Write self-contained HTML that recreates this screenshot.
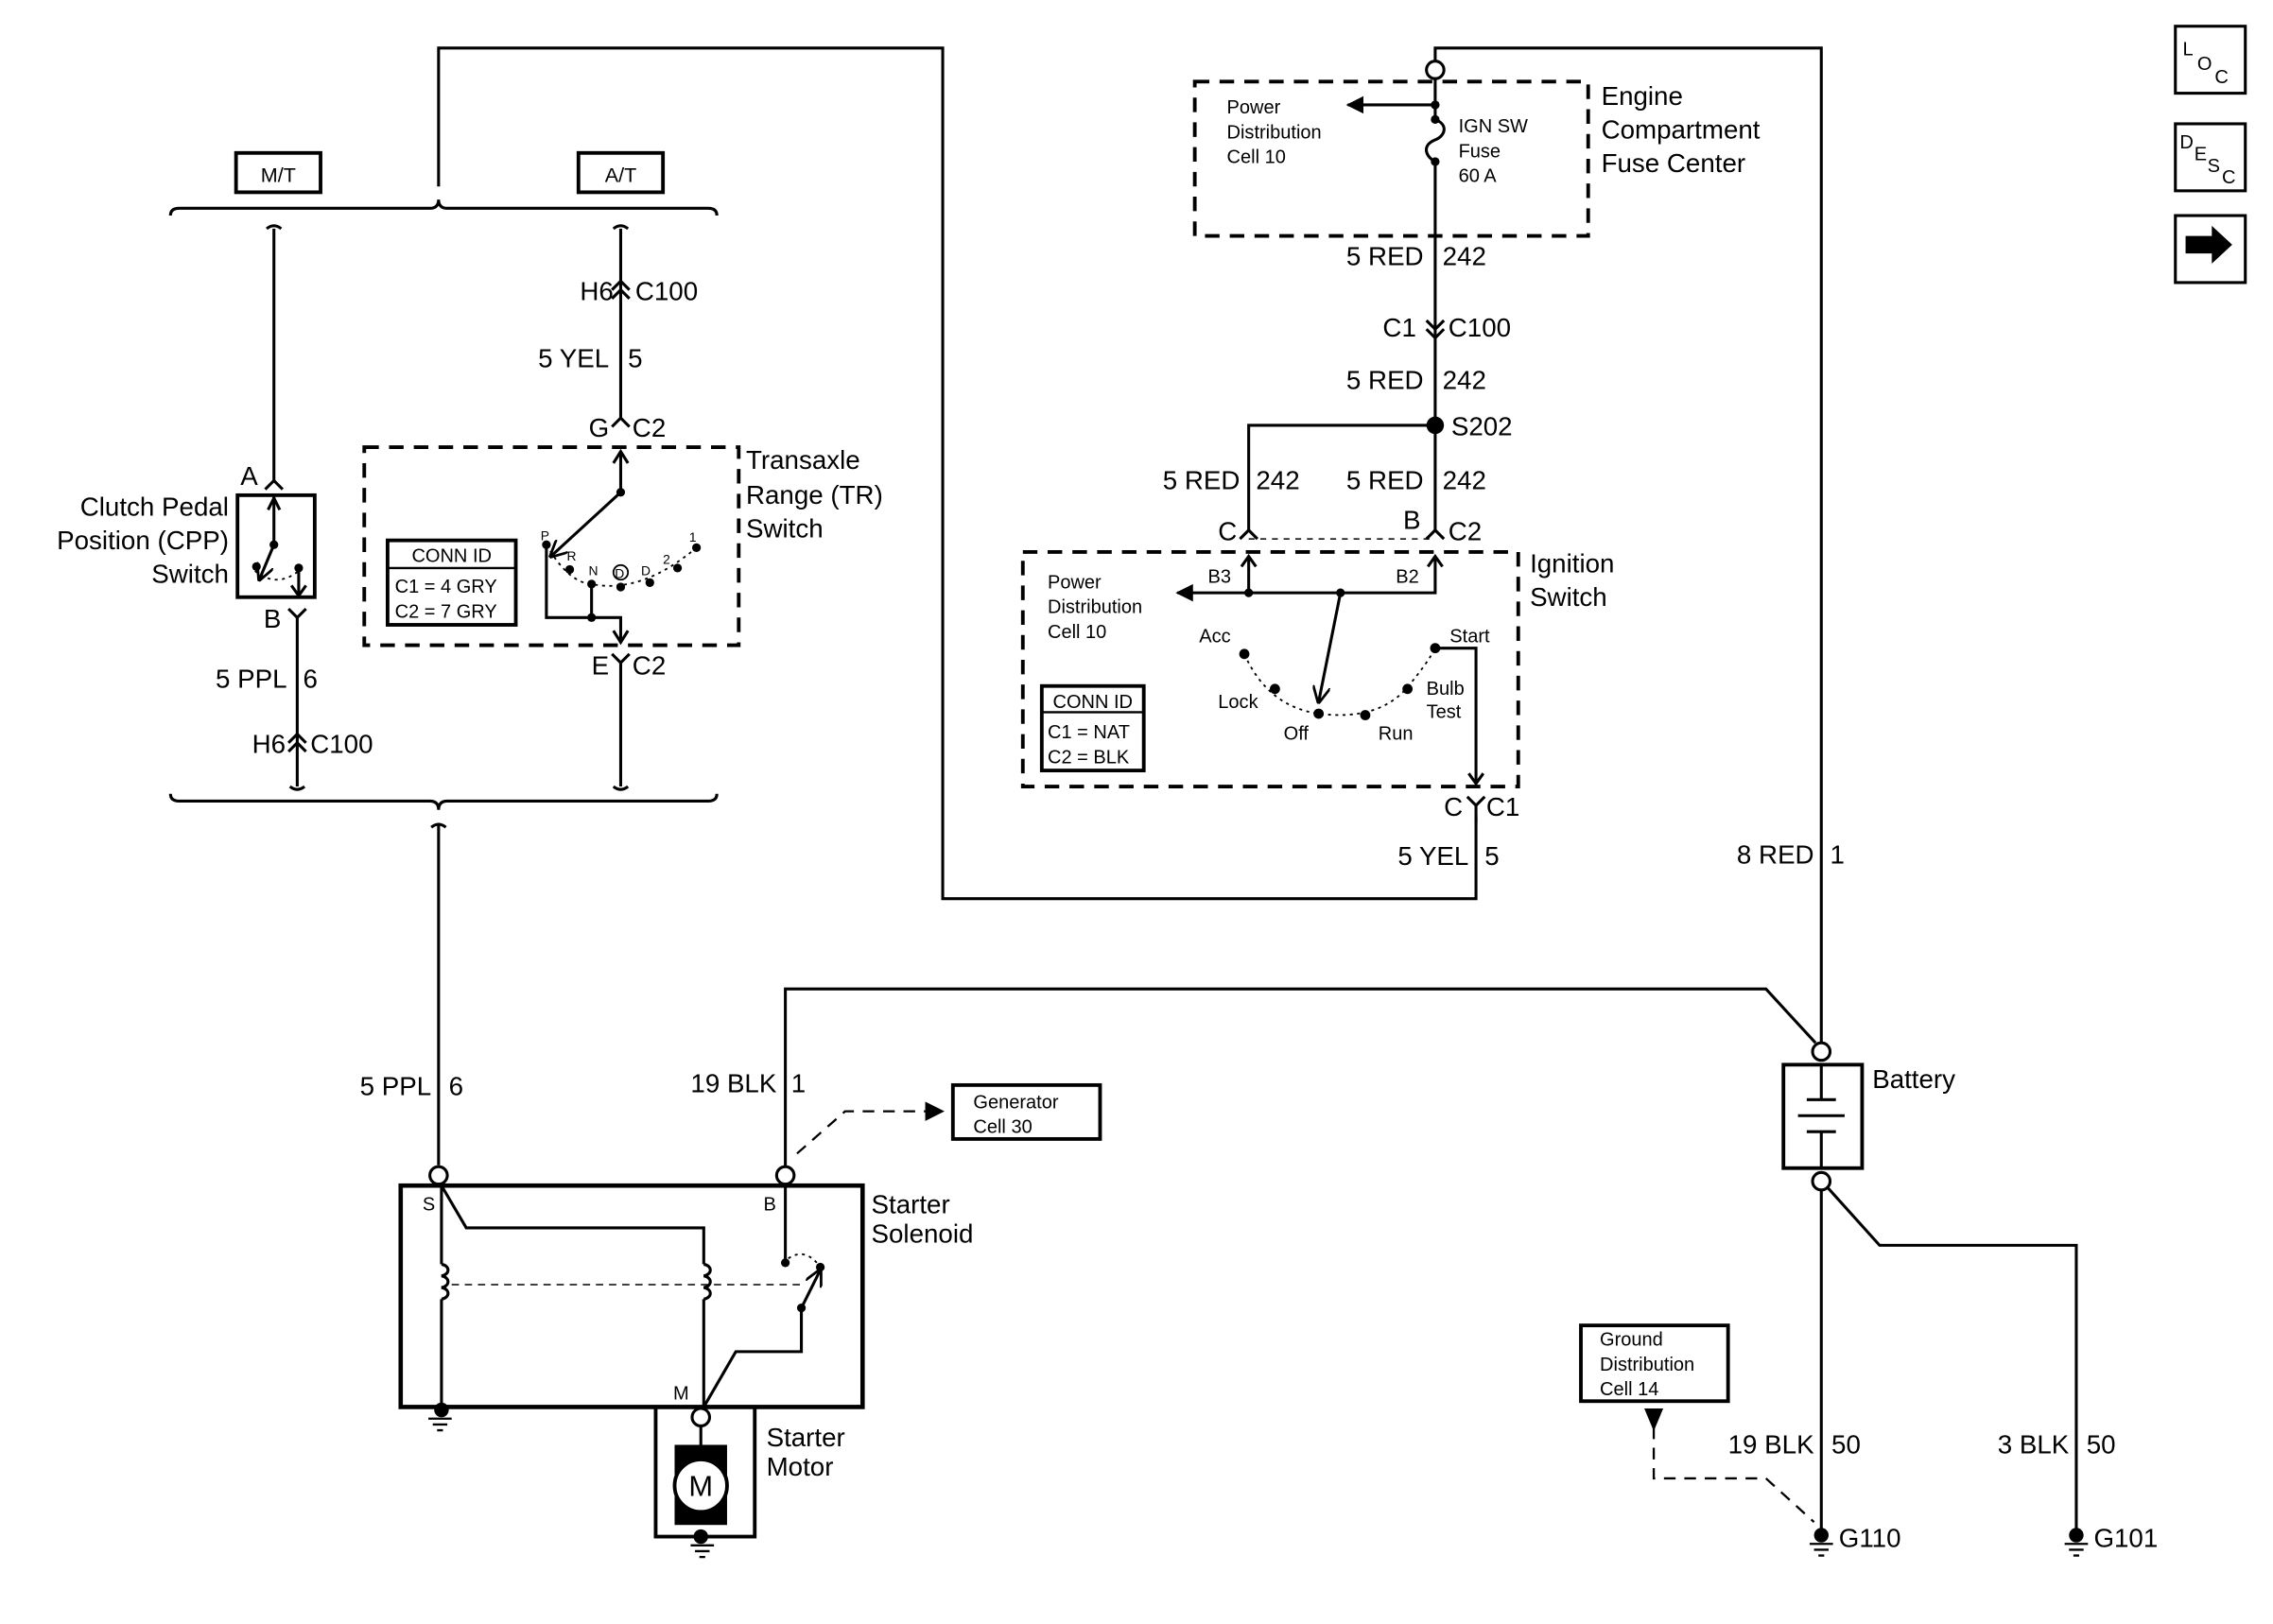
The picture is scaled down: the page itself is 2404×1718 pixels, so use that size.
<!DOCTYPE html>
<html><head><meta charset="utf-8"><style>
html,body{margin:0;padding:0;background:#fff;}
svg{display:block;}
text{font-family:"Liberation Sans",Arial,sans-serif;fill:#000;}
</style></head><body>
<svg width="2404" height="1718" viewBox="0 0 1560 1115" preserveAspectRatio="none" xmlns="http://www.w3.org/2000/svg">
<defs>
<marker id="ah" viewBox="0 0 10 10" refX="9" refY="5" markerWidth="6" markerHeight="6" orient="auto-start-reverse"><path d="M0,0 L10,5 L0,10 z" fill="#000"/></marker>
<marker id="av" viewBox="0 0 10 10" refX="9" refY="5" markerWidth="6" markerHeight="6" orient="auto"><path d="M0,0 L10,5 L0,10" fill="none" stroke="#000" stroke-width="1.5"/></marker>
</defs>
<g stroke="#000" stroke-width="2" fill="none">
<polyline points="301,128 301,33 647,33 647,617 1013,617 1013,560"/>
<path d="M117,148 q0,-5 6,-5 H295 q6,0 6,-6 q0,6 6,6 H486 q6,0 6,5"/>
<path d="M117,545 q0,5 6,5 H295 q6,0 6,6 q0,-6 6,-6 H486 q6,0 6,-5"/>
<line x1="301" y1="565" x2="301" y2="800"/>
<path d="M296,568 q5,-4 10,0"/>
<path d="M183,157 q5,-4 10,0"/>
<line x1="188" y1="157" x2="188" y2="330"/>
<path d="M182,336 l6,-6 l6,6"/>
<path d="M198,418 l6,6 l6,-6"/>
<line x1="204" y1="424" x2="204" y2="540"/>
<path d="M198,510 l6,-6 l6,6 M198,516 l6,-6 l6,6"/>
<path d="M199,540 q5,4 10,0"/>
<path d="M421,157 q5,-4 10,0"/>
<line x1="426" y1="157" x2="426" y2="287"/>
<path d="M420,199 l6,-6 l6,6 M420,205 l6,-6 l6,6"/>
<path d="M420,293 l6,-6 l6,6"/>
<path d="M420,449 l6,6 l6,-6"/>
<line x1="426" y1="455" x2="426" y2="540"/>
<path d="M421,540 q5,4 10,0"/>
<rect x="163" y="340" width="53" height="70" stroke-width="2.5"/>
<line x1="188" y1="340" x2="188" y2="374"/>
<path d="M184,350 l4,-8 l4,8"/>
<line x1="188" y1="374" x2="178" y2="398" marker-end="url(#av)"/>
<path d="M175,392 q15,12 30,0" stroke-dasharray="2,3" stroke-width="1.2"/>
<line x1="205" y1="390" x2="205" y2="408"/>
<path d="M200,402 l5,7 l5,-7"/>
<rect x="250" y="307" width="257" height="136" stroke-dasharray="10,7" stroke-width="2.5"/>
<line x1="426" y1="310" x2="426" y2="338"/>
<path d="M421,318 l5,-8 l5,8"/>
<line x1="426" y1="338" x2="378" y2="382" marker-end="url(#av)"/>
<polyline points="375,374 375,424 426,424 426,440"/>
<path d="M421,433 l5,8 l5,-8"/>
<line x1="406" y1="401" x2="406" y2="424"/>
<path d="M375,374 Q390,400 406,401 Q440,408 478,376" stroke-dasharray="2,3" stroke-width="1.2"/>
<rect x="266" y="371" width="88" height="58" stroke-width="2.5"/>
<line x1="266" y1="390" x2="354" y2="390" stroke-width="1.5"/>
<circle cx="426" cy="393" r="5" stroke-width="1.2"/>
<polyline points="985,43 985,33 1250,33 1250,716"/>
<circle cx="985" cy="48" r="6" fill="#fff"/>
<rect x="820" y="56" width="270" height="106" stroke-dasharray="10,7" stroke-width="2.5"/>
<line x1="985" y1="54" x2="985" y2="82"/>
<line x1="985" y1="72" x2="925" y2="72" marker-end="url(#ah)"/>
<path d="M985,82 c10,4 6,12 0,14 c-10,4 -6,12 0,15"/>
<line x1="985" y1="111" x2="985" y2="365"/>
<path d="M979,220 l6,6 l6,-6 M979,226 l6,6 l6,-6"/>
<polyline points="985,292 857,292 857,365"/>
<path d="M851,370 l6,-6 l6,6 M979,370 l6,-6 l6,6"/>
<path d="M857,370 H985" stroke-dasharray="4,4" stroke-width="1"/>
<rect x="702" y="379" width="340" height="161" stroke-dasharray="10,7" stroke-width="2.5"/>
<polyline points="857,382 857,407 985,407 985,382"/>
<path d="M852,389 l5,-7 l5,7 M980,389 l5,-7 l5,7"/>
<line x1="857" y1="407" x2="808" y2="407" marker-end="url(#ah)"/>
<line x1="920" y1="407" x2="905" y2="482" marker-end="url(#av)"/>
<path d="M854,449 Q870,485 905,490 Q945,495 965,473 Q980,455 985,445" stroke-dasharray="2,3" stroke-width="1.2"/>
<polyline points="985,445 1013,445 1013,537"/>
<path d="M1008,531 l5,7 l5,-7"/>
<path d="M1007,547 l6,6 l6,-6"/>
<line x1="1013" y1="553" x2="1013" y2="565"/>
<rect x="715" y="471" width="70" height="58" stroke-width="2.5"/>
<line x1="715" y1="489" x2="785" y2="489" stroke-width="1.5"/>
<circle cx="1250" cy="722" r="6" fill="#fff"/>
<rect x="1224" y="731" width="54" height="71" stroke-width="2.5"/>
<line x1="1250" y1="731" x2="1250" y2="755"/>
<line x1="1240" y1="755" x2="1260" y2="755"/>
<line x1="1234" y1="766" x2="1266" y2="766"/>
<line x1="1240" y1="777" x2="1260" y2="777"/>
<line x1="1250" y1="777" x2="1250" y2="802"/>
<circle cx="1250" cy="811" r="6" fill="#fff"/>
<line x1="1250" y1="817" x2="1250" y2="1050"/>
<polyline points="1254,815 1290,855 1425,855 1425,1050"/>
<polyline points="539,801 539,679 1212,679 1246,716"/>
<polyline points="547,792 580,763 638,763" stroke-dasharray="8,6" stroke-width="1.5"/>
<path d="M636,758 l10,5 l-10,5z" fill="#000"/>
<rect x="654" y="745" width="101" height="37" stroke-width="2.5"/>
<rect x="1085" y="910" width="101" height="52" stroke-width="2.5"/>
<polyline points="1135,980 1135,1015 1212,1015 1245,1045" stroke-dasharray="8,6" stroke-width="1.5"/>
<path d="M1130,968 h10 l-5,12z" fill="#000"/>
<circle cx="301" cy="807" r="6" fill="#fff"/>
<circle cx="539" cy="807" r="6" fill="#fff"/>
<rect x="275" y="814" width="317" height="152" stroke-width="3"/>
<polyline points="303,814 320,843 483,843 483,868"/>
<line x1="303" y1="814" x2="303" y2="868"/>
<path d="M303,868 c6,1 6,7 0,8 c6,1 6,7 0,8 c6,1 6,7 0,8 M483,868 c6,1 6,7 0,8 c6,1 6,7 0,8 c6,1 6,7 0,8"/>
<line x1="303" y1="892" x2="303" y2="966"/>
<line x1="483" y1="892" x2="483" y2="966"/>
<line x1="310" y1="882" x2="550" y2="882" stroke-dasharray="5,4" stroke-width="1"/>
<line x1="539" y1="814" x2="539" y2="867"/>
<path d="M541,864 q12,-8 22,6" stroke-dasharray="2,3" stroke-width="1.2"/>
<line x1="550" y1="898" x2="563" y2="872" marker-end="url(#av)"/>
<polyline points="550,898 550,928 505,928 483,966"/>
<rect x="450" y="966" width="68" height="89" stroke-width="2.5"/>
<circle cx="481" cy="973" r="6" fill="#fff"/>
<line x1="481" y1="979" x2="481" y2="993"/>
<rect x="464" y="993" width="34" height="53" fill="#000"/>
<circle cx="481" cy="1020" r="18" fill="#fff" stroke-width="2.5"/>
<g stroke-width="1.5">
<path d="M294,974 h16 M297,978 h10 M300,982 h4"/>
<path d="M474,1061 h16 M477,1065 h10 M480,1069 h4"/>
<path d="M1242,1060 h16 M1245,1064 h10 M1248,1068 h4"/>
<path d="M1417,1060 h16 M1420,1064 h10 M1423,1068 h4"/>
</g>
<rect x="1493" y="18" width="48" height="46" stroke-width="2"/>
<rect x="1493" y="85" width="48" height="46" stroke-width="2"/>
<rect x="1493" y="148" width="48" height="46" stroke-width="2"/>
</g>
<g fill="#000">
<circle cx="985" cy="292" r="6"/>
<circle cx="188" cy="374" r="3"/><circle cx="176" cy="389" r="3"/><circle cx="205" cy="390" r="3"/>
<circle cx="426" cy="338" r="3"/><circle cx="375" cy="374" r="3"/><circle cx="391" cy="391" r="3"/><circle cx="406" cy="401" r="3"/><circle cx="426" cy="403" r="3"/><circle cx="446" cy="400" r="3"/><circle cx="465" cy="390" r="3"/><circle cx="478" cy="376" r="3"/><circle cx="406" cy="424" r="3"/>
<circle cx="985" cy="72" r="3"/><circle cx="985" cy="82" r="3"/><circle cx="985" cy="111" r="3"/>
<circle cx="857" cy="407" r="3"/><circle cx="920" cy="407" r="3"/>
<circle cx="854" cy="449" r="3.5"/><circle cx="875" cy="473" r="3.5"/><circle cx="905" cy="490" r="3.5"/><circle cx="937" cy="491" r="3.5"/><circle cx="966" cy="473" r="3.5"/><circle cx="985" cy="445" r="3.5"/>
<circle cx="539" cy="867" r="3"/><circle cx="563" cy="870" r="3"/><circle cx="550" cy="898" r="3"/>
<circle cx="303" cy="968" r="5"/><circle cx="481" cy="1055" r="5"/><circle cx="1250" cy="1054" r="5"/><circle cx="1425" cy="1054" r="5"/>
<path d="M1500,162 h18 v-7 l14,13 l-14,13 v-7 h-18z"/>
</g>
<g font-size="18">
<rect x="162" y="105" width="58" height="27" fill="none" stroke="#000" stroke-width="2.5"/>
<rect x="397" y="105" width="58" height="27" fill="none" stroke="#000" stroke-width="2.5"/>
<text x="191" y="125" font-size="14" text-anchor="middle">M/T</text>
<text x="426" y="125" font-size="14" text-anchor="middle">A/T</text>
<text x="421" y="206" text-anchor="end">H6</text><text x="436" y="206">C100</text>
<text x="418" y="252" text-anchor="end">5 YEL</text><text x="431" y="252">5</text>
<text x="418" y="300" text-anchor="end">G</text><text x="434" y="300">C2</text>
<text x="418" y="463" text-anchor="end">E</text><text x="434" y="463">C2</text>
<text x="177" y="333" text-anchor="end">A</text>
<text x="193" y="431" text-anchor="end">B</text>
<text x="197" y="472" text-anchor="end">5 PPL</text><text x="208" y="472">6</text>
<text x="196" y="517" text-anchor="end">H6</text><text x="213" y="517">C100</text>
<text x="157" y="354" text-anchor="end">Clutch Pedal</text>
<text x="157" y="377" text-anchor="end">Position (CPP)</text>
<text x="157" y="400" text-anchor="end">Switch</text>
<text x="512" y="322">Transaxle</text><text x="512" y="346">Range (TR)</text><text x="512" y="369">Switch</text>
<text x="1099" y="72">Engine</text><text x="1099" y="95">Compartment</text><text x="1099" y="118">Fuse Center</text>
<text x="977" y="182" text-anchor="end">5 RED</text><text x="990" y="182">242</text>
<text x="972" y="231" text-anchor="end">C1</text><text x="994" y="231">C100</text>
<text x="977" y="267" text-anchor="end">5 RED</text><text x="990" y="267">242</text>
<text x="996" y="299">S202</text>
<text x="851" y="336" text-anchor="end">5 RED</text><text x="862" y="336">242</text>
<text x="977" y="336" text-anchor="end">5 RED</text><text x="990" y="336">242</text>
<text x="849" y="371" text-anchor="end">C</text>
<text x="975" y="363" text-anchor="end">B</text><text x="994" y="371">C2</text>
<text x="1050" y="393">Ignition</text><text x="1050" y="416">Switch</text>
<text x="1004" y="560" text-anchor="end">C</text><text x="1020" y="560">C1</text>
<text x="1008" y="594" text-anchor="end">5 YEL</text><text x="1019" y="594">5</text>
<text x="1245" y="593" text-anchor="end">8 RED</text><text x="1256" y="593">1</text>
<text x="1285" y="747">Battery</text>
<text x="296" y="752" text-anchor="end">5 PPL</text><text x="308" y="752">6</text>
<text x="533" y="750" text-anchor="end">19 BLK</text><text x="543" y="750">1</text>
<text x="598" y="833">Starter</text><text x="598" y="853">Solenoid</text>
<text x="526" y="993">Starter</text><text x="526" y="1013">Motor</text>
<text x="1245" y="998" text-anchor="end">19 BLK</text><text x="1257" y="998">50</text>
<text x="1420" y="998" text-anchor="end">3 BLK</text><text x="1432" y="998">50</text>
<text x="1262" y="1062">G110</text><text x="1437" y="1062">G101</text>
<text x="481" y="1027" text-anchor="middle" font-size="20">M</text>
</g>
<g font-size="13">
<text x="310" y="386" text-anchor="middle">CONN ID</text>
<text x="271" y="407">C1 = 4 GRY</text><text x="271" y="424">C2 = 7 GRY</text>
<text x="750" y="486" text-anchor="middle">CONN ID</text>
<text x="719" y="507">C1 = NAT</text><text x="719" y="524">C2 = BLK</text>
<text x="842" y="78">Power</text><text x="842" y="95">Distribution</text><text x="842" y="112">Cell 10</text>
<text x="1001" y="91">IGN SW</text><text x="1001" y="108">Fuse</text><text x="1001" y="125">60 A</text>
<text x="719" y="404">Power</text><text x="719" y="421">Distribution</text><text x="719" y="438">Cell 10</text>
<text x="829" y="400">B3</text><text x="958" y="400">B2</text>
<text x="823" y="441">Acc</text><text x="836" y="486">Lock</text><text x="881" y="508">Off</text><text x="946" y="508">Run</text>
<text x="979" y="477">Bulb</text><text x="979" y="493">Test</text><text x="995" y="441">Start</text>
<text x="668" y="761">Generator</text><text x="668" y="778">Cell 30</text>
<text x="1098" y="924">Ground</text><text x="1098" y="941">Distribution</text><text x="1098" y="958">Cell 14</text>
<text x="290" y="831">S</text><text x="524" y="831">B</text><text x="462" y="961">M</text>
<text x="371" y="371" font-size="9">P</text><text x="389" y="385" font-size="9">R</text><text x="404" y="395" font-size="9">N</text><text x="422" y="397" font-size="9">D</text><text x="440" y="395" font-size="9">D</text><text x="455" y="387" font-size="9">2</text><text x="473" y="372" font-size="9">1</text>
<text x="1498" y="38">L</text><text x="1508" y="48">O</text><text x="1520" y="57">C</text>
<text x="1496" y="102">D</text><text x="1506" y="110">E</text><text x="1515" y="118">S</text><text x="1525" y="126">C</text>
</g>
</svg>
</body></html>
